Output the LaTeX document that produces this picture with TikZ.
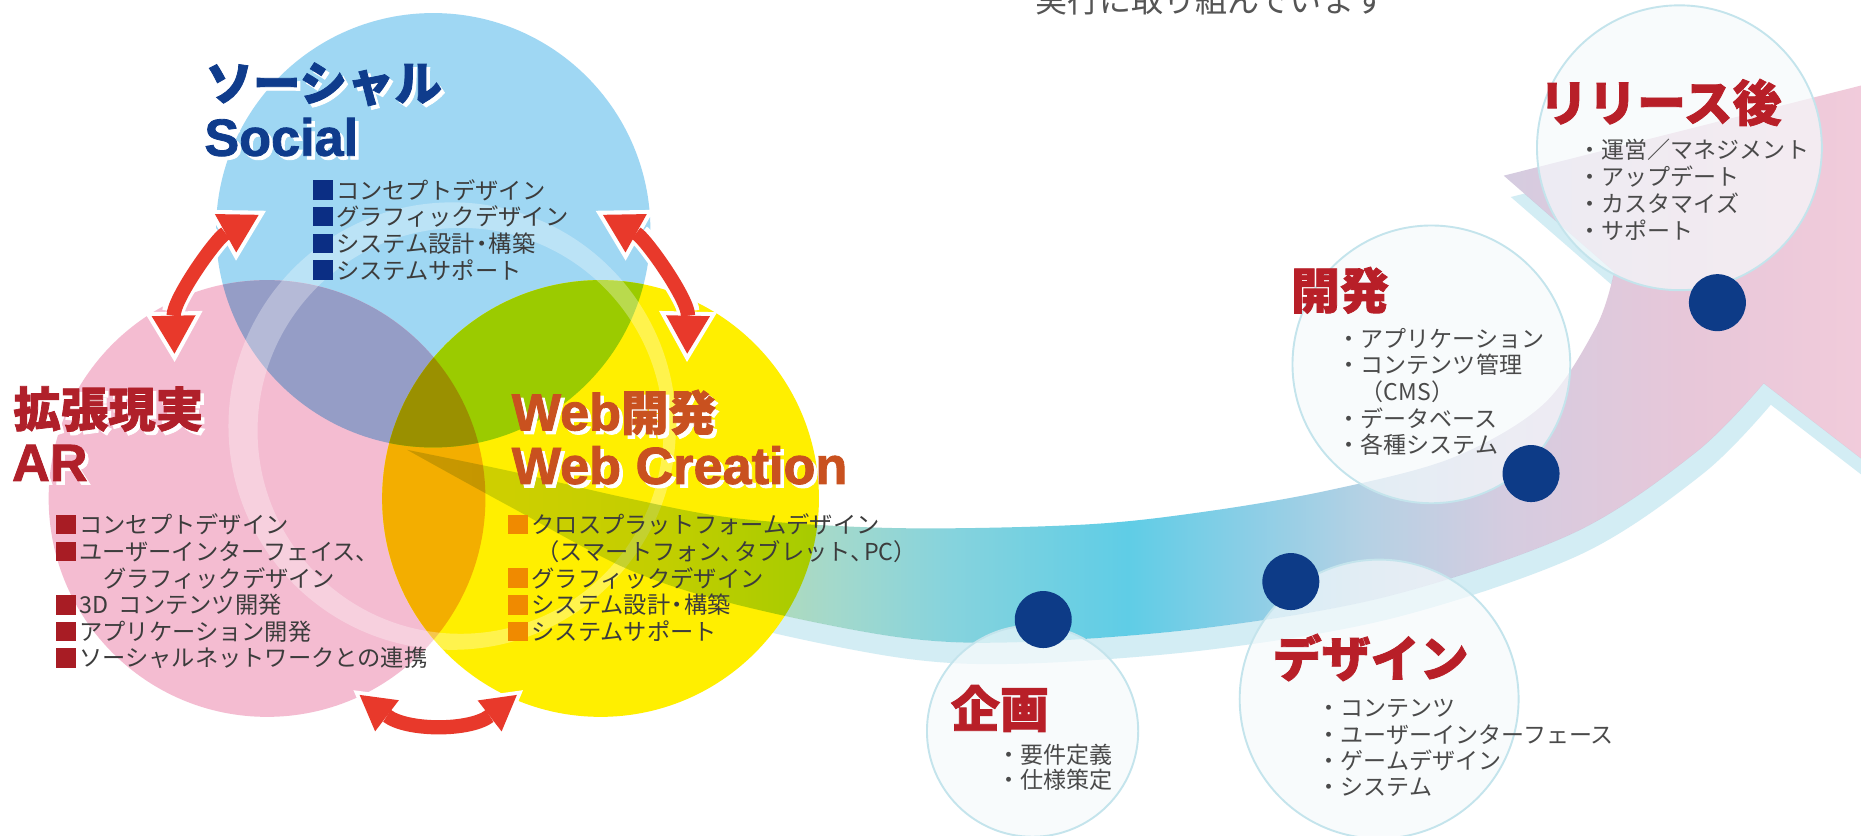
\documentclass[tikz,border=0pt]{standalone}
\usepackage{fontspec}
\setmainfont{Noto Sans CJK JP}
\newfontfamily\latb{Liberation Sans}[BoldFeatures={FakeBold=1.6}]
\newfontfamily\jpheavy{Noto Sans CJK JP}[BoldFeatures={FakeBold=1.6}]
\usetikzlibrary{arrows.meta}
\definecolor{blueC}{HTML}{9FD7F3}
\definecolor{pinkC}{HTML}{F4BCD1}
\definecolor{yelC}{HTML}{FFEF00}
\definecolor{purpC}{HTML}{959DC6}
\definecolor{greenC}{HTML}{9BCB00}
\definecolor{orangeC}{HTML}{F3AE00}
\definecolor{oliveC}{HTML}{9A9000}
\definecolor{arrowred}{HTML}{E8392B}
\definecolor{navyT}{HTML}{0F3C8C}
\definecolor{redT}{HTML}{B0202A}
\definecolor{webT}{HTML}{C9511F}
\definecolor{stepred}{HTML}{B81F28}
\definecolor{bulN}{HTML}{0B2E84}
\definecolor{bulR}{HTML}{A81C24}
\definecolor{bulO}{HTML}{F08A00}
\definecolor{listgray}{HTML}{3C3C3C}
\definecolor{stepgray}{HTML}{4A4A4A}
\definecolor{topgray}{HTML}{555555}
\definecolor{shadowC}{HTML}{D3EDF4}
\definecolor{stepfill}{HTML}{F6FAFC}
\definecolor{stepline}{HTML}{C4E4EC}
\definecolor{dotC}{HTML}{0D3B87}
\definecolor{rbA}{HTML}{D4DE8A}
\definecolor{rbB}{HTML}{C2DC9F}
\definecolor{rbC}{HTML}{A4D9CB}
\definecolor{rbD}{HTML}{86D3DD}
\definecolor{rbE}{HTML}{5FCDE6}
\definecolor{rbF}{HTML}{8ACEE6}
\definecolor{rbG}{HTML}{B5D1E4}
\definecolor{rbH}{HTML}{D5CCE0}
\definecolor{rbI}{HTML}{E7C7D9}
\definecolor{rbJ}{HTML}{F3CCDB}
\pgfdeclarehorizontalshading{ribbonsh}{100bp}{color(0bp)=(rbA); color(25bp)=(rbA); color(33.63bp)=(rbB); color(39.2bp)=(rbC); color(43.18bp)=(rbD); color(49.15bp)=(rbE); color(53.12bp)=(rbF); color(57.1bp)=(rbG); color(61.87bp)=(rbH); color(67.84bp)=(rbI); color(75bp)=(rbJ); color(100bp)=(rbJ)}
\newcommand\myJT{\jpheavy\fontsize{40}{40}\selectfont\bfseries}
\newcommand\myLT{\latb\fontsize{44}{44}\selectfont\bfseries}
\newcommand\myST{\jpheavy\fontsize{41.3}{42}\selectfont\bfseries}
\def\circB{(365,194) circle[radius=183pt]}
\def\circP{(225,420) circle[radius=184pt]}
\def\circY{(506,420) circle[radius=184pt]}
\def\ribbonpath{plot[smooth,tension=0.55] coordinates {(343,379) (430,397) (530,420) (623,437) (758,445) (913,442) (1016,431) (1120,413) (1223,386) (1300,341) (1345,275) (1360,229)} -- (1267,148) -- (1600,64) -- (1600,411) -- (1486,323) -- plot[smooth,tension=0.55] coordinates {(1486,323) (1429,381) (1326,449) (1171,502) (1016,529) (861,541) (758,537) (623,510) (530,480) (430,427) (343,379)} -- cycle}
\newcommand\shtitle[5]{%
  \node[ttl, text=white] (#1s) at (#2+3,#3+3) {#5};
  \node[ttl, text=#4] (#1) at (#2,#3) {#5};}
\tikzset{
  ttl/.style={anchor=west, inner sep=0pt},
  lst/.style={anchor=west, inner sep=0pt, text=listgray, font=\fontsize{19.6}{22}\selectfont},
  bul/.style={anchor=west, inner sep=0pt, minimum size=16.5pt},
  stp/.style={anchor=west, inner sep=0pt, text=stepgray, font=\fontsize{19.4}{22}\selectfont},
  sttl/.style={anchor=west, inner sep=0pt, text=stepred, font=\myST},
  stepc/.style={fill=stepfill, fill opacity=0.7},
  dotn/.style={circle, fill=dotC, minimum size=48pt, inner sep=0pt},
  arrwhite/.style={draw=white, line width=19pt, arrows={Triangle[length=42.5pt,width=49pt,line width=0pt]-Triangle[length=42.5pt,width=49pt,line width=0pt]}, shorten <=-7pt, shorten >=-7pt},
  arrred/.style={draw=arrowred, line width=12pt, arrows={Triangle[length=32pt,width=37pt,line width=0pt]-Triangle[length=32pt,width=37pt,line width=0pt]}},
  arrwhiteS/.style={draw=white, line width=19pt, arrows={Triangle[length=38.5pt,width=44pt,line width=0pt]-Triangle[length=38.5pt,width=44pt,line width=0pt]}, shorten <=-6.5pt, shorten >=-6.5pt},
  arrredS/.style={draw=arrowred, line width=12pt, arrows={Triangle[length=29pt,width=33pt,line width=0pt]-Triangle[length=29pt,width=33pt,line width=0pt]}},
}
\begin{document}
\begin{tikzpicture}[x=1pt,y=-1pt]
\useasboundingbox (0,0) rectangle (1568,703.55);
\fill[white] (0,0) rectangle (1568,703.55);
\clip (0,0) rectangle (1568,703.55);
% shadow of the ribbon
\begin{scope}[even odd rule]
  \clip (-20,-20) rectangle (1700,800) \ribbonpath;
  \begin{scope}[shift={(6,18)}]
    \fill[shadowC] \ribbonpath;
  \end{scope}
\end{scope}
% three circles
\fill[blueC] \circB;
\fill[pinkC] \circP;
\fill[yelC] \circY;
\begin{scope}\clip \circP; \fill[purpC] \circB; \fill[orangeC] \circY; \end{scope}
\begin{scope}\clip \circB; \fill[greenC] \circY; \clip \circP; \fill[oliveC] \circY; \end{scope}
% light ring
\fill[white, fill opacity=0.3, even odd rule] (381,359) circle[radius=188.5pt] (388,363) circle[radius=171pt];
% ribbon
\begin{scope}[blend mode=multiply]
  \shade[shading=ribbonsh] \ribbonpath;
\end{scope}
% red double arrows
\coordinate (lA) at (218,181); \coordinate (lB) at (147,298);
\coordinate (rA) at (508,181); \coordinate (rB) at (579,298);
\coordinate (bA) at (303,585.5); \coordinate (bB) at (435.5,585.5);
\draw[arrwhite] (lA) .. controls (182,201) and (146,252) .. (lB);
\draw[arrred] (lA) .. controls (182,201) and (146,252) .. (lB);
\draw[arrwhite] (rA) .. controls (544,201) and (580,252) .. (rB);
\draw[arrred] (rA) .. controls (544,201) and (580,252) .. (rB);
\draw[arrwhiteS] (bA) .. controls (343,616) and (396,616) .. (bB);
\draw[arrredS] (bA) .. controls (343,616) and (396,616) .. (bB);
% titles
\shtitle{socJ}{173}{71}{navyT}{\myJT ソーシャル}
\shtitle{socL}{172}{115.5}{navyT}{\myLT Social}
\shtitle{arJ}{11}{344.6}{redT}{\myJT 拡張現実}
\shtitle{arL}{10}{390}{redT}{\myLT AR}
\shtitle{webJ}{431}{347.5}{webT}{{\myLT Web}{\myJT 開発}}
\shtitle{webL}{431}{392}{webT}{\myLT Web Creation}
% Social list
\foreach \yy [count=\i] in {160,182.5,205,227.5} \node[bul, fill=bulN] (sb\i) at (263.5,\yy) {};
\node[lst] (s1) at (283,160) {コンセプトデザイン};
\node[lst] (s2) at (283,182.5) {グラフィックデザイン};
\node[lst] (s3) at (283,205) {システム設計\kern-4pt・\kern-4pt 構築};
\node[lst] (s4) at (283,227.5) {システムサポート};
% AR list
\foreach \yy [count=\i] in {442,464.8,509.7,532.2,554.6} \node[bul, fill=bulR] (ab\i) at (47,\yy) {};
\node[lst] (a1) at (66.6,442) {コンセプトデザイン};
\node[lst] (a2) at (66.6,464.8) {ユーザーインターフェイス、};
\node[lst] (a3) at (86.6,487.2) {グラフィックデザイン};
\node[lst] (a4) at (66.6,509.7) {3D\hspace{9pt}コンテンツ開発};
\node[lst] (a5) at (66.6,532.2) {アプリケーション開発};
\node[lst] (a6) at (66.6,554.6) {ソーシャルネットワークとの連携};
% Web list
\foreach \yy [count=\i] in {442,487.2,509.7,532.2} \node[bul, fill=bulO] (wb\i) at (428,\yy) {};
\node[lst] (w1) at (447.6,442) {クロスプラットフォームデザイン};
\node[lst] (w2) at (452,464.8) {（スマートフォン、\kern-8pt タブレット、\kern-8pt PC）};
\node[lst] (w3) at (447.6,487.2) {グラフィックデザイン};
\node[lst] (w4) at (447.6,509.7) {システム設計\kern-4pt・\kern-4pt 構築};
\node[lst] (w5) at (447.6,532.2) {システムサポート};
% step bubbles
\fill[stepc] (870,616) circle[radius=89pt];
\fill[stepc] (1162,589) circle[radius=117.5pt];
\fill[stepc] (1206,307) circle[radius=117pt];
\fill[stepc] (1415,124.5) circle[radius=120pt];
\draw[stepline, line width=1.6pt] (870,616) circle[radius=89pt] (1162,589) circle[radius=117.5pt] (1206,307) circle[radius=117pt] (1415,124.5) circle[radius=120pt];
\node[dotn] (d1) at (879,522) {};
\node[dotn] (d2) at (1087.6,490) {};
\node[dotn] (d3) at (1290,399) {};
\node[dotn] (d4) at (1447,255) {};
% step titles
\node[sttl] (t1) at (801,597) {企画};
\node[sttl] (t2) at (1072,554) {デザイン};
\node[sttl] (t3) at (1087.5,244.6) {開発};
\node[sttl] (t4) at (1296.5,86.4) {リリース後};
% step items
\node[stp] (k1) at (840,636) {・要件定義};
\node[stp] (k2) at (840,657) {・仕様策定};
\node[stp] (g1) at (1110,596.7) {・コンテンツ};
\node[stp] (g2) at (1110,619) {・ユーザーインターフェース};
\node[stp] (g3) at (1110,640.6) {・ゲームデザイン};
\node[stp] (g4) at (1110,663) {・システム};
\node[stp] (h1) at (1127,285) {・アプリケーション};
\node[stp] (h2) at (1127,307.3) {・コンテンツ管理};
\node[stp] (h3) at (1127,329.7) {\hspace{19.4pt}（CMS）};
\node[stp] (h4) at (1127,352.2) {・データベース};
\node[stp] (h5) at (1127,374.6) {・各種システム};
\node[stp] (r1) at (1330,126.5) {・運営／マネジメント};
\node[stp] (r2) at (1330,149) {・アップデート};
\node[stp] (r3) at (1330,171.4) {・カスタマイズ};
\node[stp] (r4) at (1330,193.8) {・サポート};
% top text (cut by the frame, as in the reference)
\node[anchor=west, inner sep=0pt, text=topgray, font=\fontsize{27}{27}\selectfont] (top) at (872,0.5) {実行に取り組んでいます};
\end{tikzpicture}
\end{document}
